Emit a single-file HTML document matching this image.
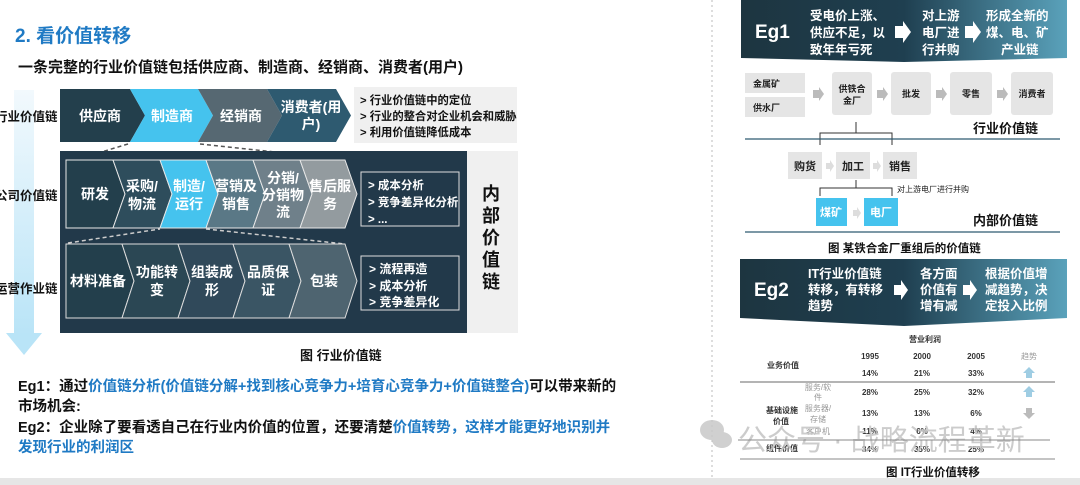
<!DOCTYPE html>
<html><head><meta charset="utf-8"><style>
html,body{margin:0;padding:0;background:#fff;}
svg{display:block;font-family:"Liberation Sans","Noto Sans CJK SC",sans-serif;}
</style></head><body>
<svg width="1080" height="485" viewBox="0 0 1080 485" xmlns="http://www.w3.org/2000/svg">
<defs>
<linearGradient id="ar" x1="0" y1="0" x2="0" y2="1"><stop offset="0" stop-color="#f2f9fd"/><stop offset="1" stop-color="#b9e4f7"/></linearGradient>
<linearGradient id="bn" x1="0" y1="0" x2="1" y2="0"><stop offset="0" stop-color="#1d3540"/><stop offset="0.5" stop-color="#1f3f50"/><stop offset="1" stop-color="#5aa2bb"/></linearGradient>
</defs>
<rect x="0" y="0" width="1080" height="485" fill="#fff"/>
<line x1="712" y1="0" x2="712" y2="478" stroke="#bbb" stroke-dasharray="2,3"/>
<rect x="0" y="478" width="1080" height="7" fill="#e6e6e6"/>

<text x="15" y="42" font-size="19" font-weight="bold" fill="#1f7ac4">2. 看价值转移</text>
<text x="18" y="72" font-size="15" font-weight="bold" fill="#111">一条完整的行业价值链包括供应商、制造商、经销商、消费者(用户)</text>

<rect x="14" y="90" width="20" height="245" fill="url(#ar)"/>
<polygon points="6,333 42,333 24,355" fill="#b9e4f7"/>
<g font-size="12.5" font-weight="bold" fill="#111">
<text x="-5" y="121">行业价值链</text>
<text x="-5" y="200">公司价值链</text>
<text x="-5" y="293">运营作业链</text>
</g>

<g>
<polygon points="60,89 130,89 145,115.5 130,142 60,142" fill="#233f4c"/>
<polygon points="130,89 198,89 213,115.5 198,142 130,142 145,115.5" fill="#45c3ee"/>
<polygon points="198,89 267,89 282,115.5 267,142 198,142 213,115.5" fill="#566872"/>
<polygon points="267,89 336,89 351,115.5 336,142 267,142 282,115.5" fill="#2e5a70"/>
</g>
<g font-size="14" font-weight="bold" fill="#fff" text-anchor="middle">
<text x="100" y="121">供应商</text>
<text x="172" y="121">制造商</text>
<text x="241" y="121">经销商</text>
<text x="311" y="112">消费者(用</text>
<text x="311" y="129">户)</text>
</g>
<rect x="354" y="87" width="163" height="56" fill="#f0f0f0"/>
<g font-size="11.3" font-weight="bold" fill="#111">
<text x="360" y="104">&gt; 行业价值链中的定位</text>
<text x="360" y="120">&gt; 行业的整合对企业机会和威胁</text>
<text x="360" y="136">&gt; 利用价值链降低成本</text>
</g>
<line x1="128" y1="144" x2="88" y2="156" stroke="#555" stroke-dasharray="4,3" stroke-width="1.5"/>
<line x1="200" y1="144" x2="275" y2="152" stroke="#555" stroke-dasharray="4,3" stroke-width="1.5"/>

<rect x="467" y="151" width="51" height="182" fill="#f0f0f0"/>
<rect x="60" y="151" width="407" height="182" fill="#22394a"/>
<g font-size="18" font-weight="bold" fill="#111" text-anchor="middle">
<text x="491" y="200">内</text><text x="491" y="222">部</text><text x="491" y="244">价</text><text x="491" y="266">值</text><text x="491" y="288">链</text>
</g>
<g stroke="#e8e8e8" stroke-width="1">
<polygon points="66,160 113,160 125,194 113,228 66,228" fill="#233f4c"/>
<polygon points="113,160 160,160 172,194 160,228 113,228 125,194" fill="#2e4d5c"/>
<polygon points="160,160 206,160 218,194 206,228 160,228 172,194" fill="#45c3ee"/>
<polygon points="206,160 253,160 265,194 253,228 206,228 218,194" fill="#5a7886"/>
<polygon points="253,160 300,160 312,194 300,228 253,228 265,194" fill="#6f808a"/>
<polygon points="300,160 345,160 357,194 345,228 300,228 312,194" fill="#939b9f"/>
</g>
<g font-size="14" font-weight="bold" fill="#fff" text-anchor="middle">
<text x="95" y="199">研发</text>
<text x="142" y="191">采购/</text><text x="142" y="209">物流</text>
<text x="189" y="191">制造/</text><text x="189" y="209">运行</text>
<text x="236" y="191">营销及</text><text x="236" y="209">销售</text>
<text x="283" y="183">分销/</text><text x="283" y="200">分销物</text><text x="283" y="217">流</text>
<text x="330" y="191">售后服</text><text x="330" y="209">务</text>
</g>
<rect x="361" y="172" width="98" height="54" fill="#22394a" stroke="#ddd"/>
<g font-size="11.5" font-weight="bold" fill="#fff">
<text x="368" y="189">&gt; 成本分析</text>
<text x="368" y="206">&gt; 竞争差异化分析</text>
<text x="368" y="223">&gt; ...</text>
</g>
<line x1="68" y1="243" x2="160" y2="229" stroke="#ccc" stroke-dasharray="4,3" stroke-width="1.5"/>
<line x1="206" y1="229" x2="345" y2="244" stroke="#ccc" stroke-dasharray="4,3" stroke-width="1.5"/>
<g stroke="#ddd" stroke-width="1">
<polygon points="66,244 122,244 134,281 122,318 66,318" fill="#233f4c"/>
<polygon points="122,244 178,244 190,281 178,318 122,318 134,281" fill="#2b4754"/>
<polygon points="178,244 233,244 245,281 233,318 178,318 190,281" fill="#30495a"/>
<polygon points="233,244 289,244 301,281 289,318 233,318 245,281" fill="#3a5564"/>
<polygon points="289,244 345,244 357,281 345,318 289,318 301,281" fill="#4e6470"/>
</g>
<g font-size="14" font-weight="bold" fill="#fff" text-anchor="middle">
<text x="98" y="286">材料准备</text>
<text x="157" y="277">功能转</text><text x="157" y="295">变</text>
<text x="212" y="277">组装成</text><text x="212" y="295">形</text>
<text x="268" y="277">品质保</text><text x="268" y="295">证</text>
<text x="324" y="286">包装</text>
</g>
<rect x="361" y="256" width="98" height="54" fill="#22394a" stroke="#ddd"/>
<g font-size="12" font-weight="bold" fill="#fff">
<text x="369" y="273">&gt; 流程再造</text>
<text x="369" y="290">&gt; 成本分析</text>
<text x="369" y="306">&gt; 竞争差异化</text>
</g>
<text x="300" y="360" font-size="13" font-weight="bold" fill="#111">图  行业价值链</text>

<g font-size="14.5" font-weight="bold">
<text x="18" y="391" fill="#111">Eg1：通过<tspan fill="#1f7ac4">价值链分析(价值链分解+找到核心竞争力+培育心竞争力+价值链整合)</tspan>可以带来新的</text>
<text x="18" y="411" fill="#111">市场机会:</text>
<text x="18" y="432" fill="#111">Eg2：企业除了要看透自己在行业内价值的位置，还要清楚<tspan fill="#1f7ac4">价值转势，这样才能更好地识别并</tspan></text>
<text x="18" y="452" fill="#1f7ac4">发现行业的利润区</text>
</g>

<polygon points="741,0 1067,0 1067,58 904,62 741,58" fill="url(#bn)"/>
<text x="755" y="38" font-size="19" font-weight="bold" fill="#fff">Eg1</text>
<g font-size="12.5" font-weight="bold" fill="#fff">
<text x="810" y="20">受电价上涨、</text><text x="810" y="37">供应不足，以</text><text x="810" y="54">致年年亏死</text>
<text x="922" y="20">对上游</text><text x="922" y="37">电厂进</text><text x="922" y="54">行并购</text>
<text x="986" y="20">形成全新的</text><text x="986" y="37">煤、电、矿</text><text x="1001" y="54">产业链</text>
</g>
<polygon points="895,26 903,26 903,21 911,32 903,43 903,38 895,38" fill="#fff"/>
<polygon points="965,26 973,26 973,21 981,32 973,43 973,38 965,38" fill="#fff"/>
<g fill="#e5e5e5">
<rect x="745" y="73" width="60" height="20"/><rect x="745" y="97" width="60" height="20"/>
<rect x="832" y="72" width="40" height="43" rx="3"/>
<rect x="891" y="72" width="40" height="43" rx="3"/>
<rect x="950" y="72" width="42" height="43" rx="3"/>
<rect x="1011" y="72" width="42" height="43" rx="3"/>
<rect x="788" y="152" width="34" height="27"/><rect x="836" y="152" width="34" height="27"/><rect x="883" y="152" width="34" height="27"/>
</g>
<g fill="#bbb">
<polygon points="813,90 819,90 819,87 824,94 819,101 819,98 813,98"/>
<polygon points="877,90 883,90 883,87 888,94 883,101 883,98 877,98"/>
<polygon points="936,90 942,90 942,87 947,94 942,101 942,98 936,98"/>
<polygon points="997,90 1003,90 1003,87 1008,94 1003,101 1003,98 997,98"/>
<polygon points="826,163 830,163 830,160 834,166 830,172 830,169 826,169" fill="#ddd"/>
<polygon points="873,163 877,163 877,160 881,166 877,172 877,169 873,169" fill="#ddd"/>
<polygon points="853,210 857,210 857,207 861,213 857,219 857,216 853,216" fill="#ddd"/>
</g>
<rect x="816" y="198" width="31" height="28" fill="#45c3ee"/>
<rect x="864" y="198" width="34" height="28" fill="#45c3ee"/>
<g font-size="9" font-weight="bold" fill="#222">
<text x="753" y="87">金属矿</text><text x="753" y="111">供水厂</text>
<text x="852" y="92" text-anchor="middle">供铁合</text><text x="852" y="104" text-anchor="middle">金厂</text>
<text x="911" y="97" text-anchor="middle">批发</text>
<text x="971" y="97" text-anchor="middle">零售</text>
<text x="1032" y="97" text-anchor="middle">消费者</text>
<text x="897" y="192" font-size="8" font-weight="normal">对上游电厂进行并购</text>
</g>
<g font-size="11" font-weight="bold">
<text x="805" y="170" text-anchor="middle" fill="#222">购货</text>
<text x="853" y="170" text-anchor="middle" fill="#222">加工</text>
<text x="900" y="170" text-anchor="middle" fill="#222">销售</text>
<text x="831" y="216" text-anchor="middle" fill="#fff">煤矿</text>
<text x="881" y="216" text-anchor="middle" fill="#fff">电厂</text>
</g>
<g stroke="#333" fill="none" stroke-width="1">
<path d="M820,145 V133 H892 V145 M856,133 V122"/>
<path d="M820,196 V188 H892 V196 M856,188 V180"/>
</g>
<line x1="745" y1="139" x2="1060" y2="139" stroke="#2e5a70" stroke-width="1.2"/>
<line x1="745" y1="232" x2="1060" y2="232" stroke="#2e5a70" stroke-width="1.2"/>
<text x="973" y="133" font-size="13" font-weight="bold" fill="#111">行业价值链</text>
<text x="973" y="225" font-size="13" font-weight="bold" fill="#111">内部价值链</text>
<text x="828" y="252" font-size="11.5" font-weight="bold" fill="#111">图  某铁合金厂重组后的价值链</text>

<polygon points="740,259 1067,259 1067,318 904,326 740,318" fill="url(#bn)"/>
<text x="754" y="296" font-size="19" font-weight="bold" fill="#fff">Eg2</text>
<g font-size="12.5" font-weight="bold" fill="#fff">
<text x="808" y="278">IT行业价值链</text><text x="808" y="294">转移，有转移</text><text x="808" y="310">趋势</text>
<text x="920" y="278">各方面</text><text x="920" y="294">价值有</text><text x="920" y="310">增有减</text>
<text x="985" y="278">根据价值增</text><text x="985" y="294">减趋势，决</text><text x="985" y="310">定投入比例</text>
</g>
<polygon points="894,285 901,285 901,280 908,290 901,300 901,295 894,295" fill="#fff"/>
<polygon points="963,285 970,285 970,280 977,290 970,300 970,295 963,295" fill="#fff"/>
<g font-size="8" font-weight="bold" fill="#333" text-anchor="middle">
<text x="925" y="342">营业利润</text>
<text x="870" y="359">1995</text><text x="922" y="359">2000</text><text x="976" y="359">2005</text>
<text x="767" y="368" text-anchor="start">业务价值</text>
<text x="870" y="376">14%</text><text x="922" y="376">21%</text><text x="976" y="376">33%</text>
<text x="870" y="395">28%</text><text x="922" y="395">25%</text><text x="976" y="395">32%</text>
<text x="870" y="416">13%</text><text x="922" y="416">13%</text><text x="976" y="416">6%</text>
<text x="870" y="434">11%</text><text x="922" y="434">6%</text><text x="976" y="434">4%</text>
<text x="870" y="452">34%</text><text x="922" y="452">35%</text><text x="976" y="452">25%</text>
<text x="766" y="413" text-anchor="start">基础设施</text><text x="773" y="424" text-anchor="start">价值</text>
<text x="766" y="451" text-anchor="start">组件价值</text>
</g>
<g font-size="8" fill="#999" text-anchor="middle">
<text x="1029" y="359">趋势</text>
<text x="818" y="390">服务/软</text><text x="818" y="400">件</text>
<text x="818" y="411">服务器/</text><text x="818" y="422">存储</text>
<text x="818" y="434">客户机</text>
</g>
<g fill="#9fcde3">
<polygon points="1029,367 1035,373 1032,373 1032,378 1026,378 1026,373 1023,373"/>
<polygon points="1029,386 1035,392 1032,392 1032,397 1026,397 1026,392 1023,392"/>
</g>
<polygon points="1029,419 1035,413 1032,413 1032,408 1026,408 1026,413 1023,413" fill="#bbb"/>
<line x1="740" y1="382" x2="1055" y2="382" stroke="#888" stroke-width="1.2"/>
<line x1="740" y1="459" x2="1055" y2="459" stroke="#888" stroke-width="1"/>
<g fill="#c8c8c8" opacity="0.85">
<ellipse cx="712" cy="430" rx="12" ry="10"/><ellipse cx="722" cy="440" rx="10" ry="8"/>
</g>
<text x="738" y="450" font-size="29" fill="#c4c4c4" opacity="0.85">公众号 · 战略流程革新</text>
<line x1="738" y1="440" x2="1050" y2="440" stroke="#888" stroke-width="1"/>
<text x="886" y="476" font-size="11.5" font-weight="bold" fill="#111">图  IT行业价值转移</text>
</svg>
</body></html>
